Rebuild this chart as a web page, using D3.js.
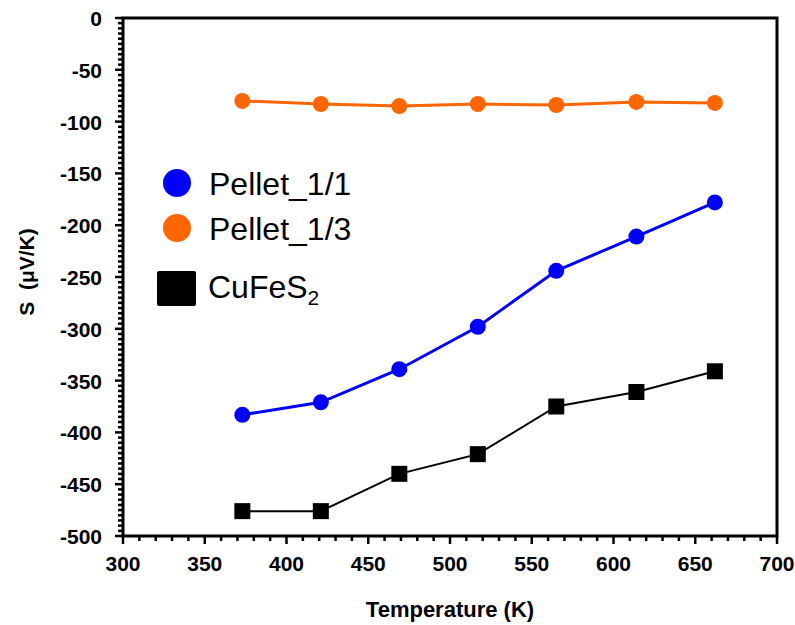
<!DOCTYPE html>
<html>
<head>
<meta charset="utf-8">
<script src="https://cdn.jsdelivr.net/npm/d3@7"></script>
<style>
  body { margin: 0; background: #fff; }
  svg { display: block; }
  text { font-family: "Liberation Sans", Arial, sans-serif; }
</style>
</head>
<body>
<svg id="chart" width="795" height="625"></svg>
<script>
// Seebeck coefficient vs temperature
const temperatures = [373, 421, 469, 517, 565, 614, 662];
const pellet11 = [-383, -371, -339, -298, -244, -211, -178];
const pellet13 = [-80, -83, -85, -83, -84, -81, -82];
const cufes2 = [-476, -476, -440, -421, -375, -361, -341];
const xTicks = [300, 350, 400, 450, 500, 550, 600, 650, 700];
const yTicks = [0, -50, -100, -150, -200, -250, -300, -350, -400, -450, -500];

const svg = d3.select("#chart");
const margin = { left: 123, right: 18, top: 18, bottom: 89 };
const W = 795, H = 625;

const x = d3.scaleLinear().domain([300, 700]).range([margin.left, W - margin.right]);
const y = d3.scaleLinear().domain([-500, 0]).range([H - margin.bottom, margin.top]);

// frame
svg.append("rect")
  .attr("x", x(300)).attr("y", y(0))
  .attr("width", x(700) - x(300)).attr("height", y(-500) - y(0))
  .attr("fill", "none").attr("stroke", "#000").attr("stroke-width", 3);

// major + minor ticks
const xMinor = d3.range(300, 701, 10);
svg.append("g").selectAll("line").data(xMinor).join("line")
  .attr("x1", d => x(d)).attr("x2", d => x(d))
  .attr("y1", y(-500)).attr("y2", d => y(-500) + (d % 50 === 0 ? 8 : 5))
  .attr("stroke", "#000").attr("stroke-width", 2.5);
const yMinor = d3.range(-500, 1, 5);
svg.append("g").selectAll("line").data(yMinor).join("line")
  .attr("y1", d => y(d)).attr("y2", d => y(d))
  .attr("x1", x(300)).attr("x2", d => x(300) - (d % 50 === 0 ? 8 : 5))
  .attr("stroke", "#000").attr("stroke-width", 2.5);

// tick labels
svg.append("g").selectAll("text").data(xTicks).join("text")
  .attr("x", d => x(d)).attr("y", y(-500) + 35)
  .attr("text-anchor", "middle")
  .attr("font-size", 21).attr("font-weight", "bold")
  .text(d => d);
svg.append("g").selectAll("text").data(yTicks).join("text")
  .attr("x", x(300) - 21).attr("y", d => y(d) + 8)
  .attr("text-anchor", "end")
  .attr("font-size", 21).attr("font-weight", "bold")
  .text(d => d);

// axis titles
svg.append("text")
  .attr("x", 450).attr("y", 617)
  .attr("text-anchor", "middle")
  .attr("font-size", 22).attr("font-weight", "bold")
  .text("Temperature (K)");
svg.append("text")
  .attr("transform", `translate(34, 272) rotate(-90)`)
  .attr("text-anchor", "middle")
  .attr("font-size", 21).attr("font-weight", "bold")
  .attr("xml:space", "preserve")
  .text("S  (μV/K)");

const line = d3.line().x(d => x(d[0])).y(d => y(d[1]));

const series = [
  { name: "cufes2", vals: cufes2, color: "#000", width: 2, marker: "square" },
  { name: "pellet11", vals: pellet11, color: "#0000ff", width: 3, marker: "circle" },
  { name: "pellet13", vals: pellet13, color: "#ff6600", width: 3, marker: "circle" }
];

series.forEach(s => {
  const pts = temperatures.map((t, i) => [t, s.vals[i]]);
  svg.append("path").datum(pts)
    .attr("d", line).attr("fill", "none")
    .attr("stroke", s.color).attr("stroke-width", s.width);
  if (s.marker === "circle") {
    svg.append("g").selectAll("circle").data(pts).join("circle")
      .attr("cx", d => x(d[0])).attr("cy", d => y(d[1])).attr("r", 8)
      .attr("fill", s.color);
  } else {
    svg.append("g").selectAll("rect").data(pts).join("rect")
      .attr("x", d => x(d[0]) - 8).attr("y", d => y(d[1]) - 8)
      .attr("width", 16).attr("height", 16)
      .attr("fill", s.color);
  }
});

// legend
const leg = svg.append("g");
leg.append("circle").attr("cx", 177).attr("cy", 183).attr("r", 14).attr("fill", "#0000ff");
leg.append("text").attr("x", 209).attr("y", 195).attr("font-size", 32).text("Pellet_1/1");
leg.append("circle").attr("cx", 177).attr("cy", 228).attr("r", 14).attr("fill", "#ff6600");
leg.append("text").attr("x", 209).attr("y", 240).attr("font-size", 32).text("Pellet_1/3");
leg.append("rect").attr("x", 157).attr("y", 271).attr("width", 39).attr("height", 35).attr("rx", 2).attr("fill", "#000");
const t3 = leg.append("text").attr("x", 208).attr("y", 298).attr("font-size", 32);
t3.append("tspan").text("CuFeS");
t3.append("tspan").attr("font-size", 21).attr("dy", 7).text("2");
</script>
</body>
</html>
